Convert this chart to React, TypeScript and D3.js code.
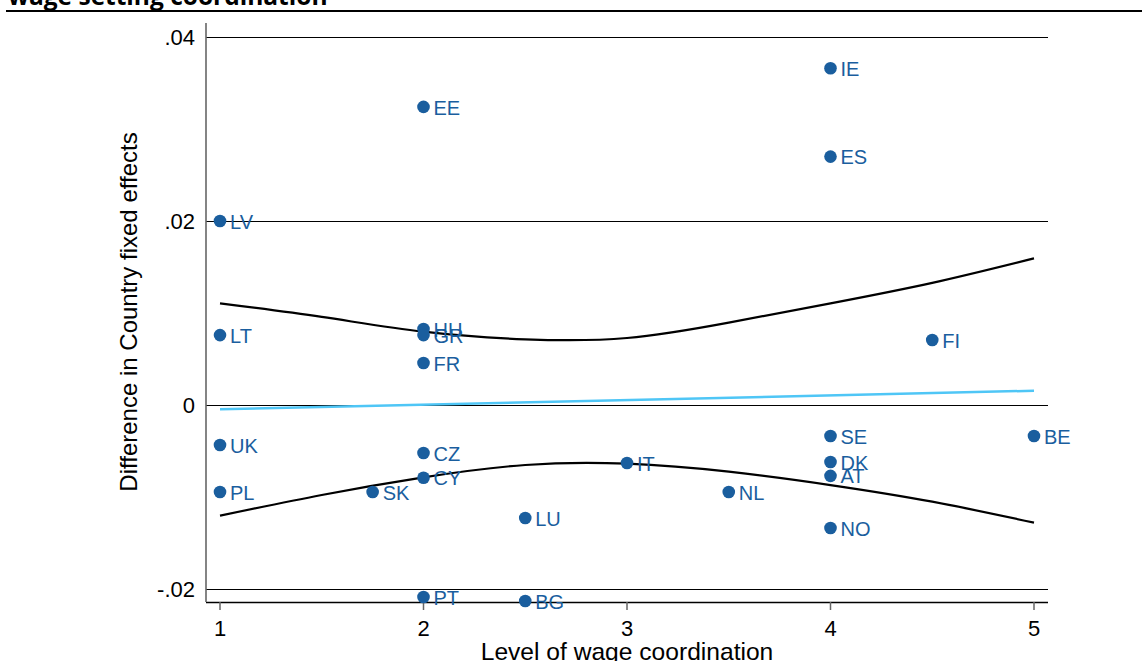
import React from "react";
import * as d3 from "d3";

const countries = ["IE","EE","ES","LV","HU","GR","LT","FI","FR","SE","BE","UK","CZ","DK","IT","AT","CY","PL","SK","NL","LU","NO","PT","BG"];
const coordination = [4,2,4,1,2,2,1,4.5,2,4,5,1,2,4,3,4,2,1,1.75,3.5,2.5,4,2,2.5];
const fixedEffectDiff = [0.0366,0.0324,0.0270,0.0200,0.00826,0.0076,0.0076,0.00707,0.00457,-0.00337,-0.00337,-0.00435,-0.00522,-0.0062,-0.0063,-0.0077,-0.0079,-0.00946,-0.00946,-0.00946,-0.01228,-0.01337,-0.02087,-0.0213];

const curveX = [1,1.5,2,2.5,3,3.5,4,4.5,5];
const upperCI = [0.01105,0.00957,0.00797,0.00714,0.00728,0.00895,0.01105,0.01328,0.01594];
const lowerCI = [-0.01203,-0.00978,-0.00786,-0.00652,-0.00638,-0.00725,-0.0087,-0.01051,-0.01279];
const fitX = [1,5];
const fitY = [-0.00047,0.00155];

const xTicks = [1,2,3,4,5];
const yTicks = [-0.02,0,0.02,0.04];
const yTickLabels = ["-.02","0",".02",".04"];

const title = "wage setting coordination";
const xTitle = "Level of wage coordination";
const yTitle = "Difference in Country fixed effects";

export default function App() {
  const W = 1142, H = 661;
  const x = d3.scaleLinear().domain([1,5]).range([220,1034]);
  const y = d3.scaleLinear().domain([0,0.02]).range([405,221]);
  const plotLeft = 206, plotRight = 1048, axisBottom = 602, axisTop = 23;
  const font = "Liberation Sans, Arial, sans-serif";
  const dotColor = "#1a5e9e";
  const snap = (v: number) => Math.round(v) + 0.5;

  const mk = () => d3.line<number>().x((_, i) => x(curveX[i])).y((v) => y(v)).curve(d3.curveNatural);
  const upperPath = mk()(upperCI) as string;
  const lowerPath = mk()(lowerCI) as string;
  const fitPath = d3.line<number>().x((_, i) => x(fitX[i])).y((v) => y(v))(fitY) as string;

  return (
    <svg width={W} height={H} style={{ position: "absolute", left: 0, top: 0, background: "#fff" }}>
      <text x={8} y={5} fontFamily="Open Sans, sans-serif" fontWeight="bold" fontSize={24.5} fill="#000">{title}</text>
      <line x1={6} x2={W} y1={11} y2={11} stroke="#000" strokeWidth={2} />

      {yTicks.map((t) => (
        <line key={"g" + t} x1={plotLeft} x2={plotRight} y1={snap(y(t))} y2={snap(y(t))} stroke="#000" strokeWidth={1} />
      ))}
      <line x1={plotLeft} x2={plotRight} y1={snap(axisBottom)} y2={snap(axisBottom)} stroke="#000" strokeWidth={1.3} />
      <line x1={plotLeft} x2={plotLeft} y1={axisTop} y2={axisBottom} stroke="#666" strokeWidth={1.6} />

      {yTicks.map((t, i) => (
        <text key={"yl" + t} x={195} y={y(t)} dy="0.36em" textAnchor="end" fontFamily={font} fontSize={22} fill="#000">{yTickLabels[i]}</text>
      ))}
      {xTicks.map((t) => (
        <g key={"xt" + t}>
          <line x1={x(t)} x2={x(t)} y1={axisBottom} y2={axisBottom + 8} stroke="#666" strokeWidth={1.5} />
          <text x={x(t)} y={636} textAnchor="middle" fontFamily={font} fontSize={22} fill="#000">{t}</text>
        </g>
      ))}

      <text x={627} y={660} textAnchor="middle" fontFamily={font} fontSize={24.6} fill="#000">{xTitle}</text>
      <text transform={`translate(137,312) rotate(-90)`} textAnchor="middle" fontFamily={font} fontSize={24} fill="#000">{yTitle}</text>

      <path d={upperPath} fill="none" stroke="#000" strokeWidth={2.2} />
      <path d={lowerPath} fill="none" stroke="#000" strokeWidth={2.2} />
      <path d={fitPath} fill="none" stroke="#4fc6f6" strokeWidth={2.5} />

      {countries.map((c, i) => (
        <g key={c}>
          <circle cx={x(coordination[i])} cy={y(fixedEffectDiff[i])} r={6.3} fill={dotColor} />
          <text x={x(coordination[i]) + 10} y={y(fixedEffectDiff[i])} dy="0.38em" fontFamily={font} fontSize={20} fill={dotColor}>{c}</text>
        </g>
      ))}
    </svg>
  );
}
